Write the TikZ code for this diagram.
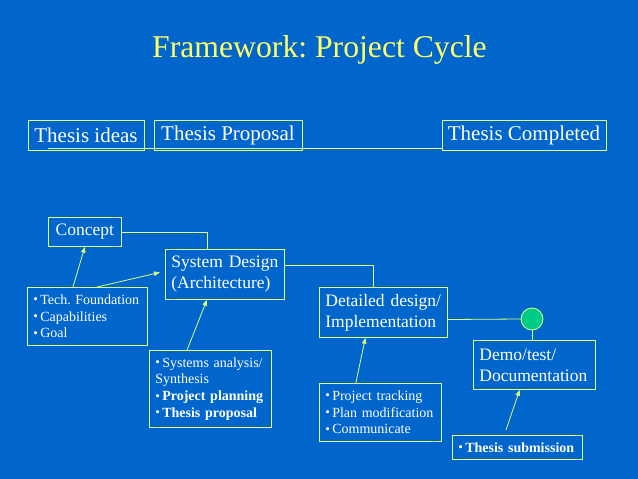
\documentclass[tikz,border=0pt]{standalone}
\usepackage{fontspec}
\setmainfont{Liberation Serif}
\usetikzlibrary{arrows.meta,calc}
\definecolor{bg}{RGB}{0,102,204}
\definecolor{bord}{RGB}{220,255,120}
\definecolor{ttl}{RGB}{255,255,102}
\definecolor{dotc}{RGB}{0,204,136}
\frenchspacing
\newcommand\bul{{\fontsize{13}{13}\selectfont\raisebox{0.5pt}{•}}\,}
\tikzset{
  bx/.style={draw=bord, line width=0.8pt, text=white, inner xsep=6pt, inner ysep=2pt, anchor=north west, align=left},
  big/.style={font=\fontsize{17.5}{21}\selectfont},
  small/.style={font=\fontsize{14}{16.7}\selectfont},
  top/.style={draw=bord, line width=0.8pt, text=white, inner sep=0pt, minimum height=30pt, font=\fontsize{21}{24}\selectfont},
  cn/.style={draw=bord, line width=0.8pt},
  ar/.style={draw=bord, line width=0.8pt, -{Triangle[width=4.5pt,length=6pt]}}
}
\begin{document}
\begin{tikzpicture}[x=1pt,y=-1pt]
\fill[bg] (0,0) rectangle (638,479);
\useasboundingbox (0,0) rectangle (638,479);
\node[text=ttl, font=\fontsize{31.7}{36}\selectfont, anchor=base] (title) at (319.5,57) {Framework: Project Cycle};
% top row
\node[top, minimum width=116pt] (ideas) at (86,135) {Thesis ideas};
\node[top, minimum width=148pt] (prop) at (228,135) {Thesis Proposal};
\node[top, minimum width=164pt] (done) at (524,135) {Thesis Completed};
\coordinate (l0) at (48,148);
\draw[cn] (l0) -- (l0 -| done.west);
% main boxes
\node[bx, big, align=center, text width=61pt, minimum height=29pt] (concept) at (48,217) {Concept};
\node[bx, big, text width=107pt, minimum height=50pt] (sd) at (165,249) {System Design\\(Architecture)};
\node[bx, big, text width=116pt, minimum height=50pt] (dd) at (319,287) {Detailed design/\\Implementation};
\node[bx, big, text width=110pt, minimum height=49pt] (demo) at (473,340) {Demo/test/\\Documentation};
\node[circle, draw=bord, line width=0.8pt, fill=dotc, minimum size=22pt, inner sep=0pt] (dot) at (532,319) {};
% bullet boxes
\node[bx, small, inner xsep=6pt, text width=108pt, minimum height=58pt] (tech) at (27,287) {\bul Tech. Foundation\\\bul Capabilities\\\bul Goal};
\node[bx, small, inner xsep=6pt, text width=110pt, minimum height=77pt] (sysa) at (149,350) {\bul Systems analysis/\\Synthesis\\\bul \textbf{Project planning}\\\bul \textbf{Thesis proposal}};
\node[bx, small, inner xsep=6pt, text width=110pt, minimum height=58pt] (pt) at (319,383) {\bul Project tracking\\\bul Plan modification\\\bul Communicate};
\node[bx, small, inner xsep=6pt, text width=118pt, minimum height=24pt] (sub) at (452,435) {\bul \textbf{Thesis submission}};
% connectors
\draw[cn] (concept.east) -| ($(sd.north west)!0.35!(sd.north east)$);
\draw[cn] ($(sd.north east)!0.32!(sd.south east)$) -| ($(dd.north west)!0.42!(dd.north east)$);
\draw[cn] ($(dd.north east)!0.64!(dd.south east)$) -- (dot.west);
\draw[cn] (dot.south) -- (dot.south |- demo.north);
% arrows
\draw[ar] ($(tech.north west)!0.38!(tech.north east)$) -- (concept.south);
\draw[ar] ($(tech.north west)!0.58!(tech.north east)$) -- ([xshift=-5pt,yshift=2pt]sd.west);
\draw[ar] ($(sysa.north west)!0.31!(sysa.north east)$) -- ($(sd.south west)!0.35!(sd.south east)$);
\draw[ar] ($(pt.north west)!0.30!(pt.north east)$) -- ($(dd.south west)!0.36!(dd.south east)$);
\draw[ar, shorten <=5pt] ($(sub.north west)!0.40!(sub.north east)$) -- ($(demo.south west)!0.38!(demo.south east)$);
\end{tikzpicture}
\end{document}
